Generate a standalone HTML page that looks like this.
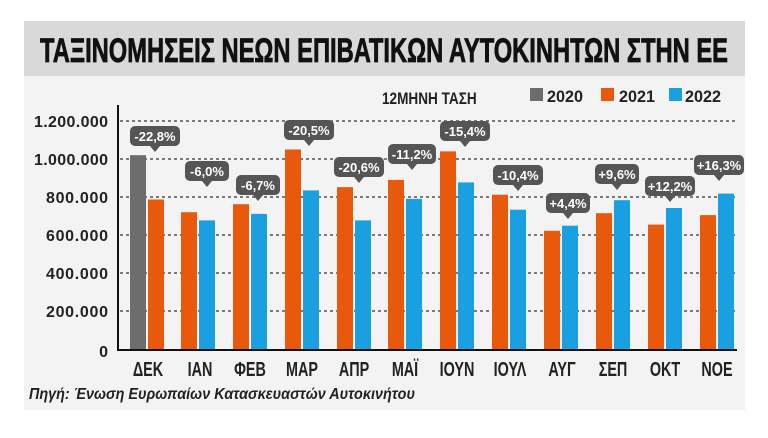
<!DOCTYPE html>
<html><head><meta charset="utf-8"><style>
html,body{margin:0;padding:0;background:#fff;}
svg{display:block;font-family:"Liberation Sans",sans-serif;}
</style></head><body>
<svg width="768" height="438" viewBox="0 0 768 438" xmlns="http://www.w3.org/2000/svg">
<rect x="24" y="21" width="721" height="389" fill="#f3f3f3"/>
<rect x="24" y="21" width="721" height="55" fill="#d9d9d9"/>
<text x="384" y="62" text-anchor="middle" font-size="34" font-weight="bold" fill="#111" stroke="#111" stroke-width="0.8" textLength="688" lengthAdjust="spacingAndGlyphs">ΤΑΞΙΝΟΜΗΣΕΙΣ ΝΕΩΝ ΕΠΙΒΑΤΙΚΩΝ ΑΥΤΟΚΙΝΗΤΩΝ ΣΤΗΝ ΕΕ</text>
<text transform="translate(382,104) scale(0.8,1)" font-size="17" font-weight="bold" fill="#222">12ΜΗΝΗ ΤΑΣΗ</text>
<rect x="530" y="88" width="13" height="13" fill="#6d6d6d"/><text x="547" y="102" font-size="17" font-weight="bold" fill="#222" textLength="36" lengthAdjust="spacingAndGlyphs">2020</text>
<rect x="601" y="88" width="13" height="13" fill="#e8590c"/><text x="619" y="102" font-size="17" font-weight="bold" fill="#222" textLength="36" lengthAdjust="spacingAndGlyphs">2021</text>
<rect x="669" y="88" width="13" height="13" fill="#1aa0e0"/><text x="685" y="102" font-size="17" font-weight="bold" fill="#222" textLength="36" lengthAdjust="spacingAndGlyphs">2022</text>
<g stroke="#333" stroke-width="1.2" stroke-dasharray="3,3">
<line x1="120" y1="121" x2="737" y2="121"/><line x1="120" y1="159" x2="737" y2="159"/><line x1="120" y1="197" x2="737" y2="197"/><line x1="120" y1="235" x2="737" y2="235"/><line x1="120" y1="273" x2="737" y2="273"/><line x1="120" y1="311" x2="737" y2="311"/>
</g>
<g font-size="16" font-weight="bold" fill="#222" text-anchor="end" lengthAdjust="spacingAndGlyphs">
<text x="108" y="127" textLength="74">1.200.000</text><text x="108" y="165" textLength="74">1.000.000</text><text x="108" y="203" textLength="62">800.000</text><text x="108" y="241" textLength="62">600.000</text><text x="108" y="279" textLength="62">400.000</text><text x="108" y="317" textLength="62">200.000</text><text x="108" y="357">0</text>
</g>
<g>
<rect x="130" y="155.2" width="16" height="193.8" fill="#6d6d6d"/>
<rect x="148" y="199.5" width="16" height="149.5" fill="#e8590c"/>
<rect x="181" y="212.2" width="16" height="136.8" fill="#e8590c"/><rect x="199" y="220.4" width="16" height="128.6" fill="#1aa0e0"/>
<rect x="233" y="204.2" width="16" height="144.8" fill="#e8590c"/><rect x="251" y="213.9" width="16" height="135.1" fill="#1aa0e0"/>
<rect x="285" y="149.5" width="16" height="199.5" fill="#e8590c"/><rect x="303" y="190.4" width="16" height="158.6" fill="#1aa0e0"/>
<rect x="337" y="187.1" width="16" height="161.9" fill="#e8590c"/><rect x="355" y="220.4" width="16" height="128.6" fill="#1aa0e0"/>
<rect x="388" y="179.9" width="16" height="169.1" fill="#e8590c"/><rect x="406" y="198.9" width="16" height="150.1" fill="#1aa0e0"/>
<rect x="440" y="151.4" width="16" height="197.6" fill="#e8590c"/><rect x="458" y="182.4" width="16" height="166.6" fill="#1aa0e0"/>
<rect x="492" y="194.7" width="16" height="154.3" fill="#e8590c"/><rect x="510" y="209.7" width="16" height="139.3" fill="#1aa0e0"/>
<rect x="544" y="230.8" width="16" height="118.2" fill="#e8590c"/><rect x="562" y="225.7" width="16" height="123.3" fill="#1aa0e0"/>
<rect x="596" y="213.2" width="16" height="135.8" fill="#e8590c"/><rect x="614" y="200.2" width="16" height="148.8" fill="#1aa0e0"/>
<rect x="648" y="224.6" width="16" height="124.4" fill="#e8590c"/><rect x="666" y="208" width="16" height="141" fill="#1aa0e0"/>
<rect x="700" y="215.1" width="16" height="133.9" fill="#e8590c"/><rect x="718" y="193.6" width="16" height="155.4" fill="#1aa0e0"/>
</g>
<line x1="118" y1="105" x2="118" y2="350" stroke="#111" stroke-width="2"/>
<line x1="117" y1="350" x2="737" y2="350" stroke="#111" stroke-width="2"/>
<g font-size="20" font-weight="bold" fill="#222" text-anchor="middle">
<text transform="translate(148,376) scale(0.72,1)">ΔΕΚ</text>
<text transform="translate(200,376) scale(0.72,1)">ΙΑΝ</text>
<text transform="translate(250,376) scale(0.72,1)">ΦΕΒ</text>
<text transform="translate(302,376) scale(0.72,1)">ΜΑΡ</text>
<text transform="translate(354,376) scale(0.72,1)">ΑΠΡ</text>
<text transform="translate(405,376) scale(0.72,1)">ΜΑΪ</text>
<text transform="translate(457,376) scale(0.72,1)">ΙΟΥΝ</text>
<text transform="translate(510,376) scale(0.72,1)">ΙΟΥΛ</text>
<text transform="translate(562,376) scale(0.72,1)">ΑΥΓ</text>
<text transform="translate(613,376) scale(0.72,1)">ΣΕΠ</text>
<text transform="translate(665,376) scale(0.72,1)">ΟΚΤ</text>
<text transform="translate(717,376) scale(0.72,1)">ΝΟΕ</text>
</g>
<text transform="translate(29,399) scale(0.9,1)" font-size="16" font-weight="bold" font-style="italic" fill="#222">Πηγή: Ένωση Ευρωπαίων Κατασκευαστών Αυτοκινήτου</text>
<g font-size="13" font-weight="bold" fill="#fff" text-anchor="middle">
<g transform="translate(155,137)"><rect x="-25" y="-11" width="50" height="20" rx="5" fill="#555"/><path d="M-5 9 L0 15 L5 9Z" fill="#555"/><text y="4">-22,8%</text></g>
<g transform="translate(207,172)"><rect x="-22" y="-11" width="44" height="20" rx="5" fill="#555"/><path d="M-5 9 L0 15 L5 9Z" fill="#555"/><text y="4">-6,0%</text></g>
<g transform="translate(258,186)"><rect x="-22" y="-11" width="44" height="20" rx="5" fill="#555"/><path d="M-5 9 L0 15 L5 9Z" fill="#555"/><text y="4">-6,7%</text></g>
<g transform="translate(309,131)"><rect x="-25" y="-11" width="50" height="20" rx="5" fill="#555"/><path d="M-5 9 L0 15 L5 9Z" fill="#555"/><text y="4">-20,5%</text></g>
<g transform="translate(359,168)"><rect x="-25" y="-11" width="50" height="20" rx="5" fill="#555"/><path d="M-5 9 L0 15 L5 9Z" fill="#555"/><text y="4">-20,6%</text></g>
<g transform="translate(412,155)"><rect x="-24" y="-11" width="48" height="20" rx="5" fill="#555"/><path d="M-5 9 L0 15 L5 9Z" fill="#555"/><text y="4">-11,2%</text></g>
<g transform="translate(465,132)"><rect x="-25" y="-11" width="50" height="20" rx="5" fill="#555"/><path d="M-5 9 L0 15 L5 9Z" fill="#555"/><text y="4">-15,4%</text></g>
<g transform="translate(518,176)"><rect x="-25" y="-11" width="50" height="20" rx="5" fill="#555"/><path d="M-5 9 L0 15 L5 9Z" fill="#555"/><text y="4">-10,4%</text></g>
<g transform="translate(568,204)"><rect x="-22" y="-11" width="44" height="20" rx="5" fill="#555"/><path d="M-5 9 L0 15 L5 9Z" fill="#555"/><text y="4">+4,4%</text></g>
<g transform="translate(617,175)"><rect x="-22" y="-11" width="44" height="20" rx="5" fill="#555"/><path d="M-5 9 L0 15 L5 9Z" fill="#555"/><text y="4">+9,6%</text></g>
<g transform="translate(670,187)"><rect x="-25" y="-11" width="50" height="20" rx="5" fill="#555"/><path d="M-5 9 L0 15 L5 9Z" fill="#555"/><text y="4">+12,2%</text></g>
<g transform="translate(719,166)"><rect x="-25" y="-11" width="50" height="20" rx="5" fill="#555"/><path d="M-5 9 L0 15 L5 9Z" fill="#555"/><text y="4">+16,3%</text></g>
</g>
</svg>
</body></html>
